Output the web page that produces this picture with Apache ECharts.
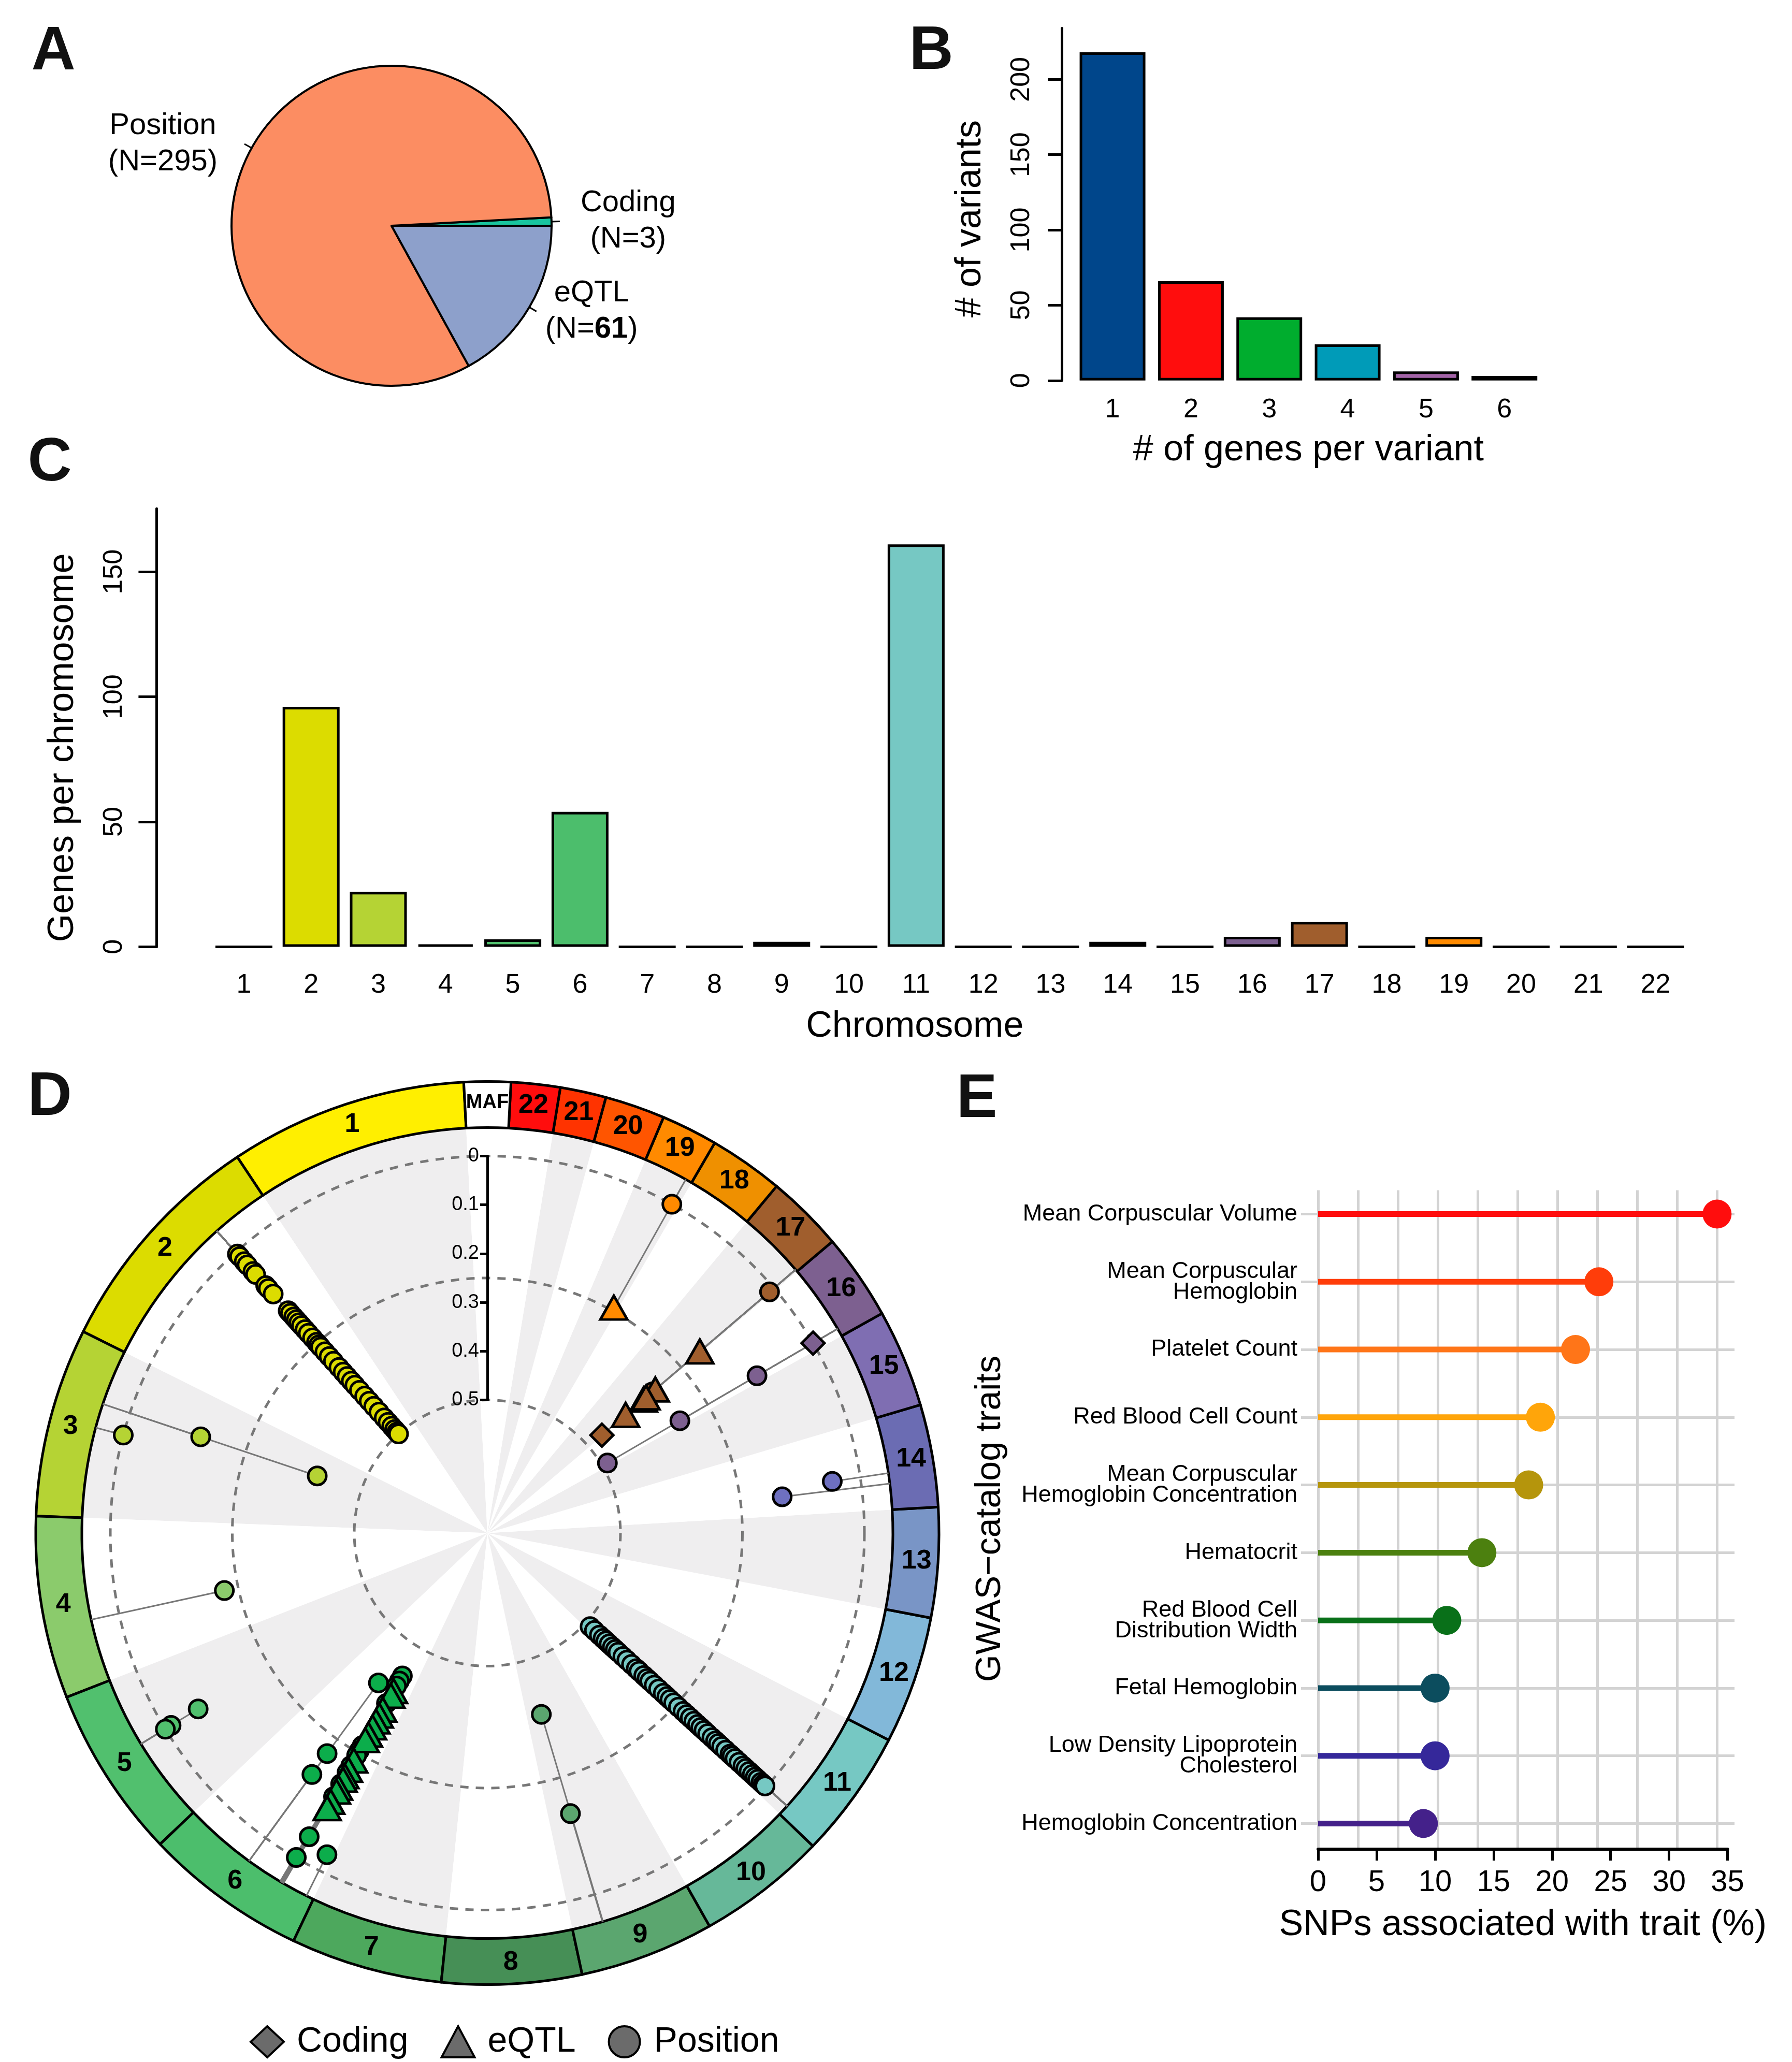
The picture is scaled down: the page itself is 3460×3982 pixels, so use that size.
<!DOCTYPE html>
<html><head><meta charset="utf-8">
<script src="https://cdn.jsdelivr.net/npm/echarts@6/dist/echarts.min.js"></script>
<style>html,body{margin:0;padding:0;background:#fff}#c{width:3460px;height:3982px}</style>
</head><body><div id="c"></div>
<script>
// ---------------- Panel A : variant annotation type ----------------
const pieNames = ['Coding', 'Position', 'eQTL'];
const pieCounts = [3, 295, 61];
const pieColors = ['#19C49E', '#FC8D62', '#8DA0CB'];

// ---------------- Panel B : genes per variant ----------------
const genesPerVariant = ['1', '2', '3', '4', '5', '6'];
const variantCounts = [218, 66, 42, 24, 6, 3];
const bColors = ['#00468B', '#FF0D0D', '#00AD2E', '#009BB8', '#A363A7', '#00468B'];
const bTicks = [0, 50, 100, 150, 200];

// ---------------- Panel C : per chromosome ----------------
const chromosomes = ['1','2','3','4','5','6','7','8','9','10','11','12','13','14','15','16','17','18','19','20','21','22'];
const genesPerChrom = [0, 96, 22, 1, 3, 54, 0, 0, 2, 0, 161, 0, 0, 2, 0, 4, 10, 0, 4, 0, 0, 0];
const cTicks = [0, 50, 100, 150];
const chromColors = ['#FFEF00','#DCDC00','#B5D334','#8BCB6C','#51C06E','#4CBE6C','#4DA85D','#468F56','#5BA66F','#66B899','#76C8C3','#82B8D9','#7995C6','#6B6CB3','#7F6EB2','#7D6090','#A05E2D','#EF9000','#FF8A00','#FF5500','#FF3300','#FF0D0D'];

// ---------------- Panel D : circular MAF plot ----------------
const chromLengthMb = [249.25,243.20,198.02,191.15,180.92,171.12,159.14,146.36,141.21,135.53,135.01,133.85,115.17,107.35,102.53,90.35,81.20,78.08,59.13,63.03,48.13,51.30];
const mafGapMb = 48.83;
const mafTicks = [0, 0.1, 0.2, 0.3, 0.4, 0.5];
const pointColors = ['#FFEF00','#DCDC00','#B5D334','#8BCB6C','#51C06E','#0CAD4B','#4DA85D','#468F56','#5BA66F','#66B899','#76C8C3','#82B8D9','#7995C6','#6E70C0','#7F6EB2','#7D6090','#A05E2D','#EF9000','#FF8A00','#FF5500','#FF3300','#FF0D0D'];
// chr2 cluster (position in Mb, MAF of each variant)
const chr2ClusterPos = 67.0;
const chr2ClusterMaf = [0.005,0.012,0.026,0.035,0.053,0.061,0.092,0.100,0.115,0.161,0.168,0.178,0.186,0.194,0.202,0.213,0.223,0.236,0.248,0.255,0.261,0.274,0.287,0.300,0.317,0.330,0.342,0.355,0.366,0.380,0.396,0.410,0.424,0.440,0.456,0.468,0.479,0.488,0.495,0.500];
// chr11 cluster
const chr11ClusterPos = 12.5;
const chr11ClusterMaf = [0.488,0.476,0.462,0.452,0.444,0.435,0.426,0.418,0.410,0.397,0.386,0.373,0.360,0.352,0.339,0.330,0.322,0.310,0.298,0.285,0.275,0.266,0.256,0.243,0.230,0.220,0.210,0.200,0.190,0.181,0.172,0.162,0.150,0.140,0.132,0.123,0.112,0.100,0.094,0.086,0.075,0.064,0.056,0.047,0.038,0.030,0.023,0.014,0.008,0.003];
// chr6 band: [position Mb, MAF, type]  P = Position, E = eQTL, C = Coding
const chr6Band = [
  [127.8,0.432,'P'],[128.0,0.420,'P'],[128.1,0.408,'P'],[128.3,0.396,'E'],[128.4,0.385,'E'],
  [128.6,0.367,'P'],[128.7,0.352,'E'],[128.9,0.338,'E'],[129.1,0.324,'E'],[129.3,0.310,'E'],
  [129.5,0.293,'E'],[129.6,0.280,'E'],[129.8,0.267,'P'],[130.0,0.255,'P'],[130.2,0.244,'P'],
  [130.4,0.232,'E'],[130.5,0.220,'P'],[130.7,0.210,'E'],[130.8,0.204,'P'],[131.0,0.195,'E'],
  [131.2,0.187,'E'],[131.3,0.177,'P'],[131.5,0.168,'E'],[131.7,0.159,'E'],[131.8,0.147,'P'],
  [132.0,0.135,'E'],[132.2,0.120,'E']
];
// remaining variants: [chromosome, position Mb, MAF, type]
const otherSnps = [
  [3,93.0,0.000,'P'],[3,64.6,0.153,'P'],[3,64.6,0.405,'P'],
  [4,118.0,0.221,'P'],
  [5,81.3,0.079,'P'],[5,81.3,0.014,'P'],[5,81.6,0.000,'P'],
  [6,85.0,0.393,'P'],[6,85.0,0.214,'P'],[6,85.0,0.161,'P'],[6,130.6,0.051,'P'],[6,129.8,0.001,'P'],[6,162.3,0.036,'P'],
  [9,36.2,0.385,'P'],[9,35.6,0.173,'P'],
  [14,42.3,0.058,'P'],[14,30.1,0.164,'P'],
  [16,9.4,0.000,'C'],[16,9.4,0.133,'P'],[16,9.4,0.316,'P'],[16,9.4,0.488,'P'],
  [17,2.6,0.012,'P'],[17,2.6,0.200,'E'],[17,2.6,0.320,'E'],[17,2.6,0.352,'E'],[17,2.6,0.345,'E'],[17,2.6,0.327,'P'],[17,2.6,0.400,'E'],[17,2.6,0.464,'C'],
  [19,7.6,0.000,'P'],[19,7.6,0.243,'E']
];
const typeNames = {C: 'Coding', E: 'eQTL', P: 'Position'};

// ---------------- Panel E : GWAS catalog traits ----------------
const traits = ['Mean Corpuscular Volume','Mean Corpuscular\nHemoglobin','Platelet Count','Red Blood Cell Count','Mean Corpuscular\nHemoglobin Concentration','Hematocrit','Red Blood Cell\nDistribution Width','Fetal Hemoglobin','Low Density Lipoprotein\nCholesterol','Hemoglobin Concentration'];
const traitPct = [34.1, 24, 22, 19, 18, 14, 11, 10, 10, 9];
const traitColors = ['#FF0D0D','#FF3D0A','#FF7518','#FFA50A','#B5950C','#4C800F','#097019','#0C4D5E','#35289A','#44218A'];
const eTicks = [0, 5, 10, 15, 20, 25, 30, 35];

// ================= build =================
const FONT = '"Liberation Sans", Arial, Helvetica, sans-serif';
const chart = echarts.init(document.getElementById('c'), null, {renderer: 'canvas', width: 3460, height: 3982});

const chromStart = [];
let acc = 0;
chromLengthMb.forEach(l => { chromStart.push(acc); acc += l; });
const totalMb = acc + mafGapMb;

const snps = [];
chr2ClusterMaf.forEach(m => snps.push([2, chr2ClusterPos, m, 'P']));
chr11ClusterMaf.forEach(m => snps.push([11, chr11ClusterPos, m, 'P']));
chr6Band.forEach(d => snps.push([6, d[0], d[1], d[2]]));
otherSnps.forEach(d => snps.push(d));

const D_CENTER = [941, 2960.5];
const RING_IN = 783, RING_OUT = 872;
const R_MAF0 = 728, R_MAF05 = 257;
const ringEdgeMaf = -(RING_IN - R_MAF0) / ((R_MAF0 - R_MAF05) / 0.5);

function snpPoint(s) {
  return {value: [s[2], chromStart[s[0] - 1] + s[1]], itemStyle: {color: pointColors[s[0] - 1]}};
}
function scatterFor(code, symbol, size) {
  return {
    type: 'scatter', name: typeNames[code], coordinateSystem: 'polar', polarIndex: 0,
    symbol: symbol, symbolSize: size, z: 6, silent: true,
    itemStyle: {borderColor: '#000', borderWidth: 5, opacity: 1},
    data: snps.filter(s => s[3] === code).map(snpPoint)
  };
}

const ringData = chromosomes.map((c, i) => ({name: c, value: chromLengthMb[i], itemStyle: {color: chromColors[i]}}));
ringData.push({name: 'MAF', value: mafGapMb, itemStyle: {color: '#FFFFFF'}, label: {fontSize: 38}});
const wedgeData = chromosomes.map((c, i) => ({name: 'w' + c, value: chromLengthMb[i], itemStyle: {color: i % 2 === 0 ? '#EFEEEF' : '#FFFFFF'}}));
wedgeData.push({name: 'wMAF', value: mafGapMb, itemStyle: {color: '#FFFFFF'}});

const legendIconStyle = {color: '#6B6B6B', borderColor: '#000', borderWidth: 4};

const option = {
  animation: false,
  backgroundColor: '#FFFFFF',
  textStyle: {fontFamily: FONT, color: '#000'},
  graphic: [
    {type: 'text', x: 103, y: 101, style: {text: 'A', font: 'bold 118px ' + FONT, fill: '#111', align: 'center', verticalAlign: 'middle'}},
    {type: 'text', x: 1798, y: 100, style: {text: 'B', font: 'bold 118px ' + FONT, fill: '#111', align: 'center', verticalAlign: 'middle'}},
    {type: 'text', x: 96, y: 895, style: {text: 'C', font: 'bold 118px ' + FONT, fill: '#111', align: 'center', verticalAlign: 'middle'}},
    {type: 'text', x: 96, y: 2120, style: {text: 'D', font: 'bold 118px ' + FONT, fill: '#111', align: 'center', verticalAlign: 'middle'}},
    {type: 'text', x: 1886, y: 2124, style: {text: 'E', font: 'bold 118px ' + FONT, fill: '#111', align: 'center', verticalAlign: 'middle'}}
  ],
  legend: {
    data: [
      {name: 'Coding', icon: 'diamond', itemStyle: legendIconStyle},
      {name: 'eQTL', icon: 'triangle', itemStyle: legendIconStyle},
      {name: 'Position', icon: 'circle', itemStyle: legendIconStyle}
    ],
    left: 477, top: 3904, itemWidth: 64, itemHeight: 60, itemGap: 62, selectedMode: false,
    textStyle: {fontSize: 68, color: '#000', fontFamily: FONT, padding: [0, 0, 0, 20]}
  },
  grid: [
    {left: 2072.4, top: 54.5, width: 908, height: 680.3},      // B
    {left: 406, top: 982.2, width: 2855.5, height: 846.2},      // C
    {left: 2545, top: 2298.5, width: 770.3, height: 1272.5},    // E gridlines
    {left: 2545, top: 2298.5, width: 790.6, height: 1272.5},    // E x axis
    {left: 2512, top: 2344.5, width: 837, height: 1177}         // E lollipops
  ],
  xAxis: [
    {gridIndex: 0, type: 'category', data: genesPerVariant, axisLine: {show: false}, axisTick: {show: false},
     axisLabel: {fontSize: 52, margin: 31, color: '#000'},
     name: '# of genes per variant', nameLocation: 'middle', nameGap: 100, nameTextStyle: {fontSize: 70, color: '#000'}},
    {gridIndex: 1, type: 'category', data: chromosomes, axisLine: {show: false}, axisTick: {show: false},
     axisLabel: {fontSize: 52, margin: 48, color: '#000', interval: 0},
     name: 'Chromosome', nameLocation: 'middle', nameGap: 119, nameTextStyle: {fontSize: 70, color: '#000', padding: [0, 135, 0, 0]}},
    {gridIndex: 2, type: 'value', min: 0, max: 34.1, interval: 3.41, axisLine: {show: false}, axisTick: {show: false}, axisLabel: {show: false},
     splitLine: {show: true, lineStyle: {color: '#D3D3D3', width: 5}}},
    {gridIndex: 3, type: 'value', min: 0, max: 35, interval: 5, splitLine: {show: false},
     axisLine: {show: true, onZero: false, lineStyle: {color: '#000', width: 6}},
     axisTick: {show: true, length: 22, lineStyle: {color: '#000', width: 5}, customValues: eTicks},
     axisLabel: {fontSize: 58, margin: 36, color: '#000', customValues: eTicks},
     name: 'SNPs associated with trait (%)', nameLocation: 'middle', nameGap: 112, nameTextStyle: {fontSize: 70, color: '#000'}},
    {gridIndex: 4, type: 'value', min: -1.46, max: 35.59, show: false, splitLine: {show: false}}
  ],
  yAxis: [
    {gridIndex: 0, type: 'value', min: 0, max: 234, interval: 50, offset: 22.4, splitLine: {show: false},
     axisLine: {show: true, lineStyle: {color: '#000', width: 5}},
     axisTick: {show: true, length: 27, lineStyle: {color: '#000', width: 5}, customValues: bTicks},
     axisLabel: {rotate: 90, fontSize: 52, margin: 51, color: '#000', customValues: bTicks},
     name: '# of variants', nameLocation: 'middle', nameGap: 141, nameRotate: 90, nameTextStyle: {fontSize: 70, color: '#000', padding: [0, 56, 0, 0]}},
    {gridIndex: 1, type: 'value', min: 0, max: 175.3, interval: 50, offset: 103.6, splitLine: {show: false},
     axisLine: {show: true, lineStyle: {color: '#000', width: 5}},
     axisTick: {show: true, length: 35, lineStyle: {color: '#000', width: 5}, customValues: cTicks},
     axisLabel: {rotate: 90, fontSize: 52, margin: 56, color: '#000', customValues: cTicks},
     name: 'Genes per chromosome', nameLocation: 'middle', nameGap: 146, nameRotate: 90, nameTextStyle: {fontSize: 70, color: '#000', padding: [0, 77, 0, 0]}},
    {gridIndex: 2, type: 'value', show: false, splitLine: {show: false}},
    {gridIndex: 3, type: 'value', show: false, splitLine: {show: false}},
    {gridIndex: 4, type: 'category', data: traits, inverse: true, boundaryGap: false,
     axisLine: {show: false}, axisTick: {show: false},
     axisLabel: {fontSize: 45, lineHeight: 40, margin: 7, color: '#000', interval: 0},
     splitLine: {show: true, interval: 0, lineStyle: {color: '#D3D3D3', width: 5}},
     name: 'GWAS\u2212catalog traits', nameLocation: 'middle', nameGap: 566, nameRotate: 90, nameTextStyle: {fontSize: 68, color: '#000'}}
  ],
  polar: [
    {center: D_CENTER, radius: [R_MAF05, RING_IN]},
    {center: D_CENTER, radius: [R_MAF05, R_MAF0]},
    {center: D_CENTER, radius: [R_MAF05, R_MAF0]}
  ],
  angleAxis: [
    {polarIndex: 0, type: 'value', min: 0, max: totalMb, startAngle: 93, clockwise: false, show: false},
    {polarIndex: 1, type: 'value', min: 0, max: 360, startAngle: 90, show: false},
    {polarIndex: 2, type: 'value', min: 0, max: 360, startAngle: 90, show: false}
  ],
  radiusAxis: [
    {polarIndex: 0, type: 'value', min: ringEdgeMaf, max: 0.5, inverse: true, show: false},
    {polarIndex: 1, type: 'value', min: 0, max: 0.5, interval: 0.1, inverse: true, z: 8,
     axisLine: {show: true, lineStyle: {color: '#000', width: 5}},
     axisTick: {show: true, length: 14, lineStyle: {color: '#000', width: 5}, customValues: mafTicks},
     axisLabel: {fontSize: 38, margin: 16, color: '#000', customValues: mafTicks},
     splitLine: {show: false}},
    {polarIndex: 2, type: 'value', min: 0, max: 0.5, interval: 0.25, inverse: true, z: 1,
     axisLine: {show: false}, axisTick: {show: false}, axisLabel: {show: false},
     splitLine: {show: true, lineStyle: {color: '#777777', width: 5, type: [16, 14]}}}
  ],
  series: [
    // A
    {type: 'pie', center: [756, 436], radius: 309, startAngle: 0, clockwise: false, avoidLabelOverlap: false, silent: true,
     itemStyle: {borderColor: '#000', borderWidth: 4},
     label: {show: true, position: 'outside', distanceToLabelLine: 52, color: '#000',
       formatter: p => p.name === 'eQTL'
         ? '{a|' + p.name + '}\n{a|(N=}{b|' + p.value + '}{a|)}'
         : '{a|' + p.name + '}\n{a|(N=' + p.value + ')}',
       rich: {
         a: {fontSize: 58, lineHeight: 70, align: 'center', color: '#000', fontFamily: FONT},
         b: {fontSize: 58, lineHeight: 70, align: 'center', color: '#000', fontFamily: FONT, fontWeight: 'bold'}
       }},
     labelLine: {show: true, length: 16, length2: 0, lineStyle: {color: '#000', width: 3}},
     data: pieNames.map((n, i) => {
       const d = {name: n, value: pieCounts[i], itemStyle: {color: pieColors[i]}};
       if (n === 'eQTL') d.label = {distanceToLabelLine: 17};
       if (n === 'Coding') d.label = {distanceToLabelLine: 40};
       return d;
     })},
    // B
    {type: 'bar', xAxisIndex: 0, yAxisIndex: 0, barWidth: 127, silent: true,
     itemStyle: {borderColor: '#000', borderWidth: 5},
     data: variantCounts.map((v, i) => ({value: v, itemStyle: {color: bColors[i]}}))},
    // C
    {type: 'bar', xAxisIndex: 1, yAxisIndex: 1, barWidth: 110, silent: true,
     itemStyle: {borderColor: '#000', borderWidth: 5},
     data: genesPerChrom.map((v, i) => ({value: v, itemStyle: {color: chromColors[i]}}))},
    // D background wedges
    {type: 'pie', center: D_CENTER, radius: [0, RING_IN], startAngle: 93, clockwise: false, silent: true, z: -1,
     label: {show: false}, labelLine: {show: false}, itemStyle: {borderWidth: 0}, data: wedgeData},
    // D chromosome ring
    {type: 'pie', center: D_CENTER, radius: [RING_IN, RING_OUT], startAngle: 93, clockwise: false, silent: true, z: 3,
     avoidLabelOverlap: false,
     itemStyle: {borderColor: '#000', borderWidth: 5},
     label: {show: true, position: 'inside', fontSize: 52, fontWeight: 'bold', color: '#000', fontFamily: FONT, formatter: '{b}'},
     labelLine: {show: false}, data: ringData},
    // D connector lines
    {type: 'custom', coordinateSystem: 'polar', polarIndex: 0, silent: true, z: 5,
     encode: {radius: 0, angle: 1},
     data: snps.map(s => [s[2], chromStart[s[0] - 1] + s[1]]),
     renderItem: function (params, api) {
       const p0 = api.coord([ringEdgeMaf, api.value(1)]);
       const p1 = api.coord([api.value(0), api.value(1)]);
       return {type: 'line', shape: {x1: p0[0], y1: p0[1], x2: p1[0], y2: p1[1]}, style: {stroke: '#777777', lineWidth: 3}};
     }},
    scatterFor('P', 'circle', 35),
    scatterFor('E', 'triangle', [52, 46]),
    scatterFor('C', 'diamond', [44, 44]),
    // E
    {type: 'bar', xAxisIndex: 4, yAxisIndex: 4, barWidth: 11, silent: true, z: 4,
     data: traitPct.map((v, i) => ({value: v, itemStyle: {color: traitColors[i]}}))},
    {type: 'scatter', xAxisIndex: 4, yAxisIndex: 4, symbol: 'circle', symbolSize: 56, silent: true, z: 5,
     itemStyle: {opacity: 1},
     data: traitPct.map((v, i) => ({value: [v, i], itemStyle: {color: traitColors[i], opacity: 1}}))}
  ]
};
chart.setOption(option);
</script>
</body></html>
